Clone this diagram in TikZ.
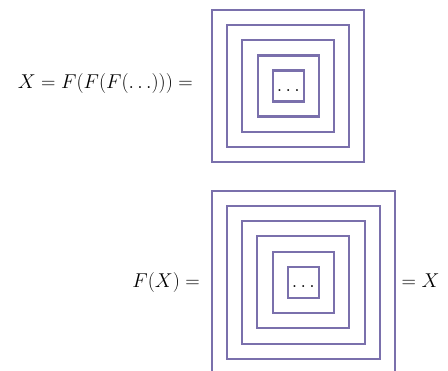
\RequirePackage{fix-cm}
\documentclass[tikz,border=0pt]{standalone}
\usepackage{amsmath}
\usepackage{tikz}
\usetikzlibrary{positioning}
\definecolor{nestcol}{RGB}{122,112,172}
\tikzset{
  box/.style={draw=nestcol, line width=2.1pt, minimum size=#1, inner sep=0pt, outer sep=0pt},
  eqn/.style={font=\fontsize{20}{24}\selectfont, inner sep=0pt},
}
\begin{document}
\begin{tikzpicture}[x=1pt,y=-1pt]
    \path[use as bounding box, clip] (0,0) rectangle (448,371);
    % top: the limit of nested boxes
    \coordinate (tc) at (288.3,86);
    \foreach \n/\s in {1/31,2/61,3/92,4/122,5/152}
      \node[box=\s pt] (top\n) at (tc) {};
    \node[eqn, anchor=base] (topdots) at (288.3,92) {$\ldots$};
    \node[eqn, anchor=base east] (toplhs) at (193,88.5) {$X = F(F(F(\ldots))) =$};
    % bottom: one more box round it
    \coordinate (bc) at (303.3,282.3);
    \foreach \n/\s in {1/31,2/61,3/92,4/123,5/153,6/183}
      \node[box=\s pt] (bot\n) at (bc) {};
    \node[eqn, anchor=base] (botdots) at (303.3,288) {$\ldots$};
    \node[eqn, anchor=base east] (botlhs) at (200,287.5) {$F(X) =$};
    \node[eqn, anchor=base west] (botrhs) at (401.5,287.5) {$= X$};
  \end{tikzpicture}
\end{document}
